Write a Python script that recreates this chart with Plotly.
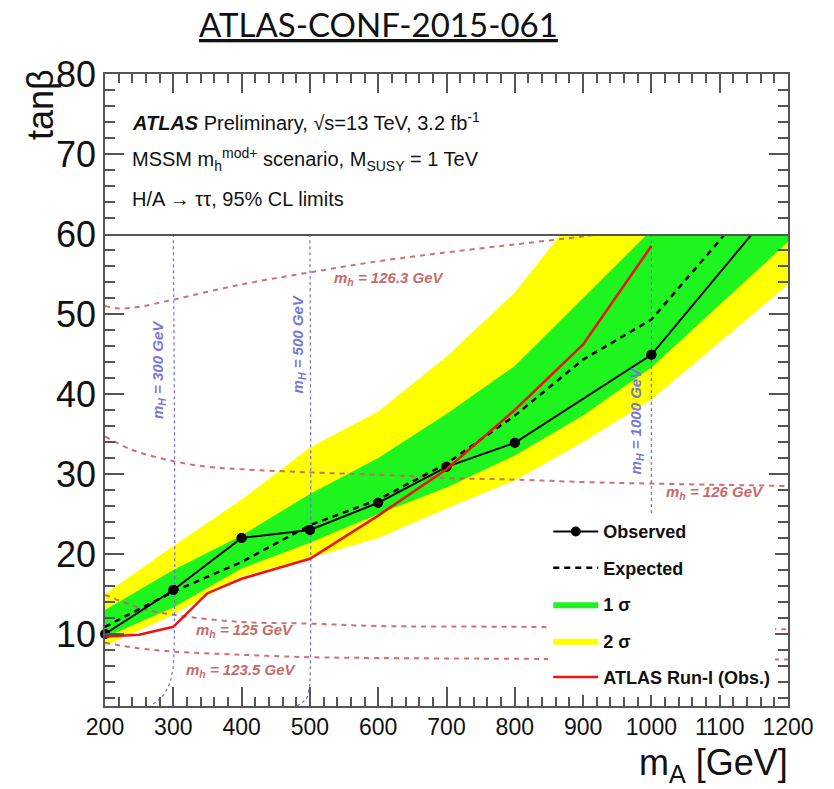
import plotly.graph_objects as go

# ---------------- data ----------------
mass_points = [200, 300, 400, 500, 600, 700, 800, 900, 1000, 1100, 1200]

obs_x = [200, 300, 400, 500, 600, 700, 800, 1000, 1200]
obs_y = [10.0, 15.5, 22.0, 23.0, 26.4, 30.9, 33.9, 44.9, 65.4]
obs_n_shown = 8  # the last point lies above the plotted tanβ range

exp_y = [10.9, 15.3, 19.0, 23.6, 26.8, 31.3, 37.3, 44.3, 49.3, 59.2, 70.0]

sig2_up = [15.0, 21.0, 26.8, 33.3, 37.8, 44.7, 52.7, 63.5, 75.0, 85.0, 95.0]
sig2_lo = [8.5, 12.4, 17.2, 19.5, 22.0, 25.7, 29.2, 34.0, 39.3, 46.5, 53.7]
sig1_up = [13.0, 18.0, 22.3, 27.5, 32.0, 37.5, 43.5, 52.0, 60.5, 71.0, 81.0]
sig1_lo = [9.6, 13.3, 18.2, 21.4, 25.0, 28.3, 32.3, 37.3, 43.3, 51.2, 59.0]

run1_x = [200, 250, 300, 350, 400, 500, 600, 700, 800, 900, 1000]
run1_y = [9.7, 9.9, 10.9, 15.1, 16.9, 19.4, 24.8, 30.6, 38.0, 46.2, 58.5]

mh1263_x = [200, 220, 250, 300, 400, 500, 600, 700, 800, 900, 950]
mh1263_y = [51.0, 50.7, 50.9, 51.8, 53.7, 55.2, 56.6, 57.7, 58.7, 59.7, 60.3]
mh126_x = [200, 240, 300, 350, 400, 500, 600, 700, 800, 900, 1000, 1200]
mh126_y = [34.7, 33.0, 31.6, 30.9, 30.6, 30.2, 29.9, 29.5, 29.3, 29.0, 28.8, 28.5]
mh125_x = [200, 250, 300, 400, 500, 600, 800, 1000, 1200]
mh125_y = [14.9, 13.3, 12.4, 11.5, 11.3, 11.0, 10.9, 10.7, 10.6]
mh1235_x = [200, 250, 300, 400, 500, 600, 800, 1200]
mh1235_y = [8.9, 8.2, 7.8, 7.4, 7.1, 7.0, 6.9, 6.8]

mH300_x = [300, 300, 298, 295, 290, 283, 266]
mH300_y = [60, 6.0, 5.0, 3.9, 3.0, 2.1, 1.0]
mH500_x = [500, 500, 499, 496, 490, 481]
mH500_y = [60, 4.0, 3.3, 2.1, 1.5, 1.0]
mH1000_x = [1000, 1000]
mH1000_y = [60, 1.0]

x_ticks = [200, 300, 400, 500, 600, 700, 800, 900, 1000, 1100, 1200]

# ---------------- style ----------------
FONT = "Liberation Sans, Arial, Helvetica, sans-serif"
YELLOW = "#ffff00"
GREEN = "rgb(30,245,30)"
MH_COL = "rgba(205,95,95,0.9)"
MHLAB_COL = "#c86a6a"
BLUE = "#6f6fe6"
BLUELAB = "#7777dd"
FRAME = "#555"

fig = go.Figure()

# 2 sigma band
fig.add_trace(go.Scatter(
    x=mass_points + mass_points[::-1], y=sig2_up + sig2_lo[::-1],
    fill="toself", fillcolor=YELLOW, line=dict(width=0, color=YELLOW),
    mode="lines", name="2 σ", legendrank=4, legendgroup="g4",
    xaxis="x", yaxis="y", hoverinfo="skip"))
# 1 sigma band
fig.add_trace(go.Scatter(
    x=mass_points + mass_points[::-1], y=sig1_up + sig1_lo[::-1],
    fill="toself", fillcolor=GREEN, line=dict(width=0, color=GREEN),
    mode="lines", name="1 σ", legendrank=3, legendgroup="g3",
    xaxis="x", yaxis="y", hoverinfo="skip"))

# mh contours
for cx, cy in [(mh1263_x, mh1263_y), (mh126_x, mh126_y), (mh125_x, mh125_y), (mh1235_x, mh1235_y)]:
    fig.add_trace(go.Scatter(x=cx, y=cy, mode="lines", showlegend=False,
                             line=dict(color=MH_COL, width=2, dash="5px,5px", shape="spline"),
                             xaxis="x", yaxis="y", hoverinfo="skip"))
# mH contours
for cx, cy in [(mH300_x, mH300_y), (mH500_x, mH500_y), (mH1000_x, mH1000_y)]:
    fig.add_trace(go.Scatter(x=cx, y=cy, mode="lines", showlegend=False,
                             line=dict(color=BLUE, width=1.2, dash="dot", shape="spline"),
                             xaxis="x", yaxis="y", hoverinfo="skip"))

# expected
fig.add_trace(go.Scatter(x=mass_points, y=exp_y, mode="lines", name="Expected",
                         line=dict(color="black", width=2.5, dash="6px,5px"),
                         legendrank=2, legendgroup="g2", xaxis="x", yaxis="y"))
# observed: line through all points
fig.add_trace(go.Scatter(x=obs_x, y=obs_y, mode="lines+markers", name="Observed",
                         line=dict(color="black", width=2),
                         marker=dict(color="black", size=10, symbol="circle"),
                         legendrank=1, legendgroup="g1", xaxis="x", yaxis="y"))
# observed markers drawn unclipped (the point at the left edge sits on the frame)
fig.add_trace(go.Scatter(x=obs_x[:obs_n_shown], y=obs_y[:obs_n_shown], mode="markers",
                         marker=dict(color="black", size=10, symbol="circle"),
                         cliponaxis=False, showlegend=False, xaxis="x", yaxis="y",
                         hoverinfo="skip"))
# run-1
fig.add_trace(go.Scatter(x=run1_x, y=run1_y, mode="lines", name="ATLAS Run-I (Obs.)",
                         line=dict(color="#ee1111", width=2.5),
                         legendrank=5, legendgroup="g5", xaxis="x", yaxis="y"))

# invisible trace on upper subplot so that axes exist
fig.add_trace(go.Scatter(x=[200], y=[70], mode="markers", marker=dict(opacity=0),
                         showlegend=False, xaxis="x2", yaxis="y2", hoverinfo="skip"))

low_dom = (60 - 1) / (80 - 1)

axis_common = dict(showline=True, linecolor=FRAME, linewidth=1.5,
                   ticks="inside", tickcolor=FRAME, tickwidth=1.5, showgrid=False,
                   zeroline=False)

fig.update_layout(
    width=834, height=789,
    margin=dict(l=105, r=46, t=74, b=83),
    paper_bgcolor="white", plot_bgcolor="white",
    font=dict(family=FONT, color="#111"),
    showlegend=True,
    legend=dict(x=0.649, y=0.305, xanchor="left", yanchor="top",
                bgcolor="white", borderwidth=0,
                font=dict(family=FONT, size=18, color="#111", weight="bold"),
                itemwidth=45, tracegroupgap=10, traceorder="grouped"),
    xaxis=dict(domain=[0, 1], range=[200, 1200], anchor="y", mirror=False,
               tickmode="array", tickvals=x_ticks, ticklen=19,
               tickfont=dict(size=23, family=FONT, color="#111"),
               minor=dict(dtick=20, tick0=200, ticklen=9, tickcolor=FRAME, ticks="inside"),
               **axis_common),
    yaxis=dict(domain=[0, low_dom], range=[1, 60], anchor="x", mirror="allticks",
               tick0=0, dtick=10, ticklen=19,
               tickfont=dict(size=36, family=FONT, color="#111"),
               minor=dict(dtick=2, tick0=0, ticklen=10, tickcolor=FRAME, ticks="inside"),
               **axis_common),
    xaxis2=dict(domain=[0, 1], range=[200, 1200], anchor="y2", matches="x", side="top",
                mirror=True, tickmode="array", tickvals=x_ticks, ticklen=19,
                showticklabels=False,
                minor=dict(dtick=20, tick0=200, ticklen=9, tickcolor=FRAME, ticks="inside"),
                **axis_common),
    yaxis2=dict(domain=[low_dom, 1], range=[60, 80], anchor="x2", mirror="allticks",
                tickmode="array", tickvals=[70, 80], ticklen=19,
                tickfont=dict(size=36, family=FONT, color="#111"),
                minor=dict(tickmode="linear", dtick=2, tick0=0, ticklen=10, tickcolor=FRAME, ticks="inside"),
                **axis_common),
)

ann = []
# title
ann.append(dict(text="<u>ATLAS-CONF-2015-061</u>", xref="paper", yref="paper",
                x=0.401, y=1.079, xanchor="center", yanchor="middle", showarrow=False,
                font=dict(family="Lato, sans-serif", size=33, color="#111")))
# info lines
info = [
    ("<b><i>ATLAS</i></b> Preliminary, √s=13 TeV, 3.2 fb<sup>-1</sup>", 0.9256),
    ("MSSM m<sub>h</sub><sup>mod+</sup> scenario, M<sub>SUSY</sub> = 1 TeV", 0.865),
    ("H/A → ττ, 95% CL limits", 0.802),
]
for t, yy in info:
    ann.append(dict(text=t, xref="paper", yref="paper", x=0.0366, y=yy,
                    xanchor="left", yanchor="middle", showarrow=False,
                    font=dict(family=FONT, size=20, color="#111")))
# axis titles
ann.append(dict(text="m<sub>A</sub> [GeV]", xref="paper", yref="paper", x=1.003, y=-0.093,
                xanchor="right", yanchor="middle", showarrow=False,
                font=dict(family=FONT, size=36, color="#111")))
ann.append(dict(text="tanβ", xref="paper", yref="paper", x=-0.0937, y=0.951,
                xanchor="center", yanchor="middle", textangle=-90, showarrow=False,
                font=dict(family=FONT, size=36, color="#111")))
# contour labels
for t, xx, yy in [("m<sub>h</sub> = 126.3 GeV", 617, 54.4), ("m<sub>h</sub> = 126 GeV", 1093, 27.7),
                  ("m<sub>h</sub> = 125 GeV", 405, 10.4), ("m<sub>h</sub> = 123.5 GeV", 400, 5.4)]:
    ann.append(dict(text="<b><i>" + t + "</i></b>", xref="x", yref="y", x=xx, y=yy,
                    showarrow=False, xanchor="center", yanchor="middle",
                    font=dict(family=FONT, size=15, color=MHLAB_COL)))
for t, xx, yy in [("m<sub>H</sub> = 300 GeV", 277.6, 43.0), ("m<sub>H</sub> = 500 GeV", 482.6, 46.2),
                  ("m<sub>H</sub> = 1000 GeV", 977.5, 36.7)]:
    ann.append(dict(text="<b><i>" + t + "</i></b>", xref="x", yref="y", x=xx, y=yy,
                    showarrow=False, xanchor="center", yanchor="middle", textangle=-90,
                    font=dict(family=FONT, size=15, color=BLUELAB)))
fig.update_layout(annotations=ann)

fig.write_html("out.html")
